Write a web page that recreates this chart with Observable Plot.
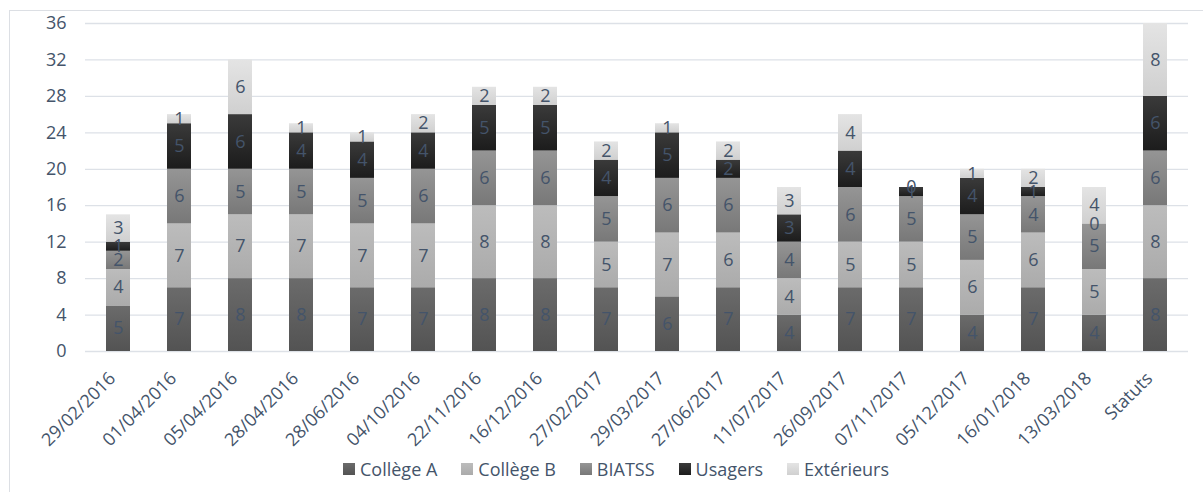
<!DOCTYPE html>
<html>
<head>
<meta charset="utf-8">
<script src="https://cdn.jsdelivr.net/npm/d3@7"></script>
<script src="https://cdn.jsdelivr.net/npm/@observablehq/plot@0.6"></script>
<style>
  body { margin: 0; background: #fff; font-family: "Open Sans", sans-serif; }
  #wrap { position: relative; width: 1203px; height: 492px; overflow: hidden; }
  #frame { position: absolute; left: 9px; top: 10px; width: 1210px; height: 500px; border: 1px solid #dcdfe4; box-sizing: border-box; }
  #chart { position: absolute; left: 0; top: 0; }
  #legend { position: absolute; left: 343px; top: 457px; display: flex; align-items: center; font-size: 18px; color: #44546a; white-space: nowrap; }
  .item { display: flex; align-items: center; margin-right: 24px; }
  .sw { width: 12px; height: 12px; margin-right: 5px; }
</style>
</head>
<body>
<div id="wrap">
  <div id="frame"></div>
  <div id="chart"></div>
  <div id="legend"></div>
</div>
<script>
const dates = ["29/02/2016","01/04/2016","05/04/2016","28/04/2016","28/06/2016","04/10/2016","22/11/2016","16/12/2016","27/02/2017","29/03/2017","27/06/2017","11/07/2017","26/09/2017","07/11/2017","05/12/2017","16/01/2018","13/03/2018","Statuts"];
const series = ["Collège A","Collège B","BIATSS","Usagers","Extérieurs"];
const collegeA   = [5,7,8,8,7,7,8,8,7,6,7,4,7,7,4,7,4,8];
const collegeB   = [4,7,7,7,7,7,8,8,5,7,6,4,5,5,6,6,5,8];
const biatss     = [2,6,5,5,5,6,6,6,5,6,6,4,6,5,5,4,5,6];
const usagers    = [1,5,6,4,4,4,5,5,4,5,2,3,4,1,4,1,0,6];
const exterieurs = [3,1,6,1,1,2,2,2,2,1,2,3,4,0,1,2,4,8];
const yTicks = [0,4,8,12,16,20,24,28,32,36];

const gradTop    = ["#6b6b6b","#bcbcbc","#959595","#3a3a3a","#e4e4e4"];
const gradBottom = ["#535353","#ababab","#787878","#1c1c1c","#d0d0d0"];

const seriesValues = [collegeA, collegeB, biatss, usagers, exterieurs];
const table = dates.flatMap((d, i) => series.map((s, j) => ({date: d, series: s, value: seriesValues[j][i]})));

const svg = Plot.plot({
  width: 1203,
  height: 458,
  marginLeft: 85,
  marginRight: 15,
  marginTop: 23,
  marginBottom: 107,
  style: {fontFamily: "'Open Sans', sans-serif", fontSize: "18px", color: "#44546a", background: "transparent", overflow: "visible"},
  x: {domain: dates, paddingInner: 0.6, paddingOuter: 0.3, label: null},
  y: {domain: [0, 36], label: null},
  color: {domain: series, range: series.map((s, i) => `url(#grad${i})`)},
  marks: [
    Plot.gridY(yTicks, {stroke: "#dde1e7", strokeOpacity: 1, strokeWidth: 1.3}),
    Plot.barY(table, {x: "date", y: "value", fill: "series"}),
    Plot.textY(table, Plot.stackY({x: "date", y: "value", z: "series", text: "value", fill: "#44546a", fontSize: 18})),
    Plot.axisY({ticks: yTicks, tickSize: 0, tickPadding: 19, fontSize: 18}),
    Plot.axisX({tickRotate: -45, tickSize: 0, tickPadding: 24, dx: -6, fontSize: 18})
  ]
});

const ns = "http://www.w3.org/2000/svg";
const defs = document.createElementNS(ns, "defs");
series.forEach((s, i) => {
  const g = document.createElementNS(ns, "linearGradient");
  g.setAttribute("id", `grad${i}`);
  g.setAttribute("x1", "0"); g.setAttribute("y1", "0");
  g.setAttribute("x2", "0"); g.setAttribute("y2", "1");
  const s1 = document.createElementNS(ns, "stop");
  s1.setAttribute("offset", "0"); s1.setAttribute("stop-color", gradTop[i]);
  const s2 = document.createElementNS(ns, "stop");
  s2.setAttribute("offset", "1"); s2.setAttribute("stop-color", gradBottom[i]);
  g.appendChild(s1); g.appendChild(s2);
  defs.appendChild(g);
});
svg.insertBefore(defs, svg.firstChild);
document.getElementById("chart").appendChild(svg);

const legend = document.getElementById("legend");
series.forEach((s, i) => {
  const item = document.createElement("div");
  item.className = "item";
  const sw = document.createElement("div");
  sw.className = "sw";
  sw.style.background = `linear-gradient(${gradTop[i]}, ${gradBottom[i]})`;
  const label = document.createElement("span");
  label.textContent = s;
  item.appendChild(sw); item.appendChild(label);
  legend.appendChild(item);
});
</script>
</body>
</html>
